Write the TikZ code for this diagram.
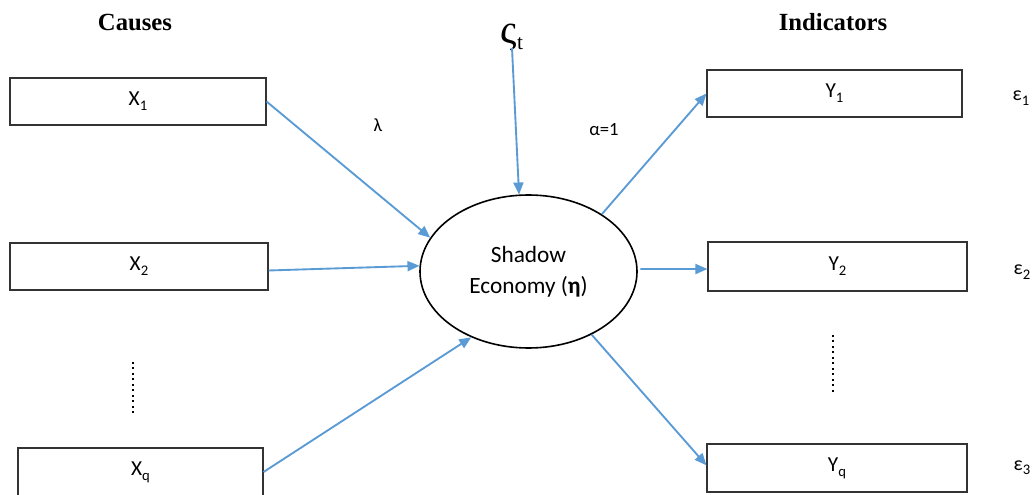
\documentclass[tikz,border=0pt]{standalone}
\usepackage{fontspec}
\setmainfont{Carlito}
\newfontfamily\seriffont{Liberation Serif}
\usetikzlibrary{arrows.meta,shapes.geometric}
\definecolor{arrowblue}{RGB}{91,155,213}
\newcommand\lowsub[1]{\raisebox{-0.22em}{\fontsize{11}{11}\selectfont #1}}
\begin{document}
\begin{tikzpicture}[x=0.75pt,y=-0.75pt,
  box/.style={draw=black!80, line width=0.8pt, inner sep=0pt, font=\fontsize{16}{19}\selectfont},
  link/.style={draw=arrowblue, line width=1.4pt, -{Triangle[length=9pt,width=7.5pt]}},
  heading/.style={font=\seriffont\bfseries\fontsize{18.5}{22}\selectfont, inner sep=0pt},
  lbl/.style={font=\fontsize{14}{17}\selectfont, inner sep=0pt},
  errlbl/.style={font=\fontsize{15}{18}\selectfont, inner sep=0pt},
  dotline/.style={line width=1.5pt, dash pattern=on 1.5pt off 2.6pt}]
\clip (0,0) rectangle (1036,495);
\fill[white] (0,0) rectangle (1036,495);

% headings
\node[heading] (causes) at (135,22) {Causes};
\node[heading] (indic) at (833,22) {Indicators};

% cause boxes
\node[box, minimum width=192pt, minimum height=35.25pt] (X1) at (138,101.5) {X\lowsub{1}};
\node[box, minimum width=193.5pt, minimum height=35.25pt] (X2) at (139,266.5) {X\lowsub{2}};
\node[box, minimum width=183.75pt, minimum height=36pt] (Xq) at (140.5,472) {X\lowsub{q}};

% indicator boxes
\node[box, minimum width=191.25pt, minimum height=35.25pt] (Y1) at (834.5,93.5) {Y\lowsub{1}};
\node[box, minimum width=194.25pt, minimum height=36.75pt] (Y2) at (837.5,266.5) {Y\lowsub{2}};
\node[box, minimum width=195pt, minimum height=36pt] (Yq) at (837,468) {Y\lowsub{q}};

% latent variable
\node[draw, ellipse, line width=1.2pt, inner sep=0pt, minimum width=162.75pt, minimum height=114.75pt,
      align=center, font=\fontsize{17.5}{23}\selectfont] (E) at (528.5,271.5)
      {Shadow\\Economy (\textbf{η})};

% disturbance
\node[inner sep=0pt, anchor=base] (zeta) at (512,44)
  {\seriffont\fontsize{31}{31}\selectfont ς\raisebox{-4pt}{\fontsize{16}{16}\selectfont t}};
\coordinate (zs) at (512,48);

% labels
\node[lbl] (lambda) at (378,125) {λ};
\node[lbl] (alpha) at (604,130) {α=1};
\node[errlbl] (e1) at (1021,98) {ε\lowsub{1}};
\node[errlbl] (e2) at (1022,272) {ε\lowsub{2}};
\node[errlbl] (e3) at (1022,468) {ε\lowsub{3}};

% dotted continuation marks
\coordinate (dl1) at (133,362);
\coordinate (dl2) at (133,416);
\coordinate (dr1) at (833,335);
\coordinate (dr2) at (833,394);
\draw[dotline] (dl1) -- (dl2);
\draw[dotline] (dr1) -- (dr2);

% arrows
\draw[link] (zs) -- (E.97);
\draw[link] (X1.east) -- (E.161);
\draw[link] ([yshift=-3pt]X2.east) -- (E.177);
\draw[link] (Xq.east) -- (E.229);
\draw[link] (E.38) -- (Y1.west);
\draw[link] ([xshift=2pt,yshift=1.9pt]E.east) -- ([yshift=-1.9pt]Y2.west);
\draw[link] (E.315) -- ([yshift=2pt]Yq.west);
\end{tikzpicture}
\end{document}
